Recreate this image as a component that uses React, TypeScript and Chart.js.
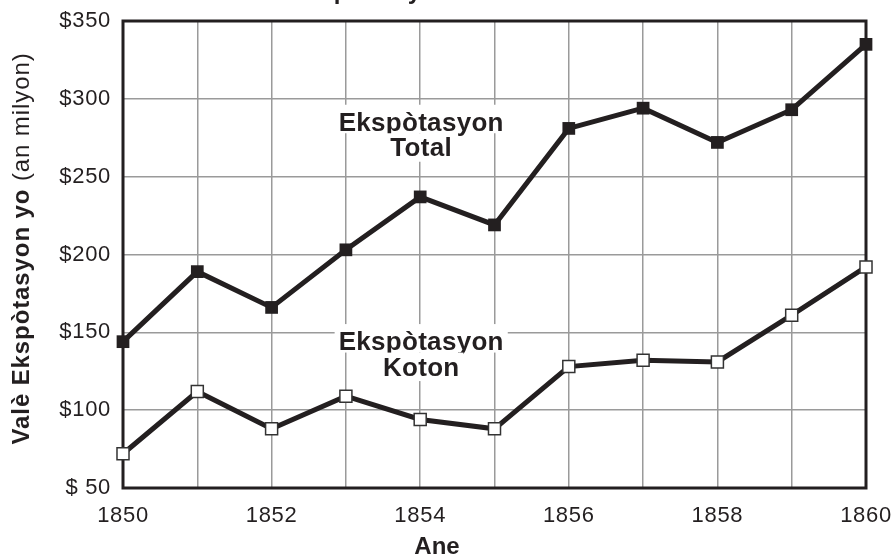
import React, { useEffect, useRef } from 'react';
import { Chart, registerables } from 'chart.js';

Chart.register(...registerables);

const years = [1850, 1851, 1852, 1853, 1854, 1855, 1856, 1857, 1858, 1859, 1860];
const totalExports = [144, 189, 166, 203, 237, 219, 281, 294, 272, 293, 335];
const cottonExports = [72, 112, 88, 109, 94, 88, 128, 132, 131, 161, 192];
const xTickLabels = ['1850', '1852', '1854', '1856', '1858', '1860'];
const yTickValues = [50, 100, 150, 200, 250, 300, 350];
const yTickLabels = ['$ 50', '$100', '$150', '$200', '$250', '$300', '$350'];
const chartTitle = 'Ekspòtasyon Koton ak Total';
const yTitleBold = 'Valè Ekspòtasyon yo';
const yTitleNormal = ' (an milyon)';
const xTitle = 'Ane';
const seriesNames = ['Total', 'Koton'];
const seriesLabelLines = [['Ekspòtasyon', 'Total'], ['Ekspòtasyon', 'Koton']];
const labelAnchorYear = [1854, 1854];
const labelAnchorValue = [279.5, 138.6];

const INK = '#231f20';
const GRID = '#9a9a9a';
const FONT = "'Liberation Sans', Arial, Helvetica, sans-serif";
const TICK_SPACING = '0.7px';

const spacingPlugin = {
  id: 'letterSpacing',
  beforeInit(chart: any) { chart.ctx.letterSpacing = TICK_SPACING; },
  beforeUpdate(chart: any) { chart.ctx.letterSpacing = TICK_SPACING; },
  beforeDraw(chart: any) { chart.ctx.letterSpacing = TICK_SPACING; },
};

const decorPlugin = {
  id: 'decor',
  beforeDatasetsDraw(chart: any) {
    const { ctx, chartArea: a, scales } = chart;
    ctx.save();
    ctx.strokeStyle = INK;
    ctx.lineWidth = 3;
    ctx.strokeRect(a.left, a.top, a.right - a.left, a.bottom - a.top);

    // series annotations with white backgrounds
    ctx.font = `bold 26px ${FONT}`;
    ctx.letterSpacing = '0.3px';
    ctx.textAlign = 'center';
    ctx.textBaseline = 'alphabetic';
    seriesLabelLines.forEach((lines, i) => {
      const cx = scales.x.getPixelForValue(labelAnchorYear[i]) + 1;
      const by = scales.y.getPixelForValue(labelAnchorValue[i]);
      lines.forEach((line, j) => {
        const b = by + j * 25.5;
        const w = ctx.measureText(line).width;
        ctx.fillStyle = '#ffffff';
        const top = j === 0 ? b - 26 : b - 23;
        const bottom = j === 0 ? b + 2.5 : b + 5.5;
        ctx.fillRect(cx - w / 2 - 4, top, w + 8, bottom - top);
        ctx.fillStyle = INK;
        ctx.fillText(line, cx, b);
      });
    });
    ctx.restore();
  },
  afterDraw(chart: any) {
    const { ctx, chartArea: a } = chart;
    ctx.save();
    ctx.fillStyle = INK;
    ctx.textBaseline = 'alphabetic';

    // chart title (mostly above the visible page)
    ctx.letterSpacing = '2px';
    ctx.font = `bold 24px ${FONT}`;
    ctx.textAlign = 'left';
    ctx.fillText(chartTitle, 285, -1);

    // x title
    ctx.letterSpacing = '0px';
    ctx.font = `bold 24px ${FONT}`;
    ctx.textAlign = 'center';
    ctx.fillText(xTitle, 437, 554);

    // y title, mixed weights
    ctx.letterSpacing = '0.9px';
    ctx.translate(29, (a.top + a.bottom) / 2 - 6);
    ctx.rotate(-Math.PI / 2);
    ctx.textAlign = 'left';
    ctx.font = `bold 24px ${FONT}`;
    const wb = ctx.measureText(yTitleBold).width;
    ctx.font = `24px ${FONT}`;
    const wn = ctx.measureText(yTitleNormal).width;
    const start = -(wb + wn) / 2;
    ctx.font = `bold 24px ${FONT}`;
    ctx.fillText(yTitleBold, start, 0);
    ctx.font = `24px ${FONT}`;
    ctx.fillText(yTitleNormal, start + wb, 0);
    ctx.restore();
  },
};

export default function App() {
  const ref = useRef<HTMLCanvasElement | null>(null);

  useEffect(() => {
    document.body.style.margin = '0';
    const canvas = ref.current;
    if (!canvas) return;
    const chart = new Chart(canvas, {
      type: 'line',
      data: {
        datasets: [
          {
            label: seriesNames[0],
            data: years.map((yr, i) => ({ x: yr, y: totalExports[i] })),
            borderColor: INK,
            borderWidth: 5,
            backgroundColor: INK,
            pointStyle: 'rect',
            pointRadius: 9,
            pointBackgroundColor: INK,
            pointBorderColor: INK,
            pointBorderWidth: 0,
            tension: 0,
            clip: false,
          },
          {
            label: seriesNames[1],
            data: years.map((yr, i) => ({ x: yr, y: cottonExports[i] })),
            borderColor: INK,
            borderWidth: 5,
            backgroundColor: '#ffffff',
            pointStyle: 'rect',
            pointRadius: 8.5,
            pointBackgroundColor: '#ffffff',
            pointBorderColor: '#333333',
            pointBorderWidth: 1.5,
            tension: 0,
            clip: false,
          },
        ],
      },
      options: {
        responsive: false,
        animation: false,
        events: [],
        layout: { padding: { top: 21, right: 27, left: 0, bottom: 0 } },
        plugins: {
          legend: { display: false },
          tooltip: { enabled: false },
          title: { display: false },
        },
        scales: {
          x: {
            type: 'linear',
            min: years[0],
            max: years[years.length - 1],
            border: { display: false },
            grid: { color: GRID, lineWidth: 1.5, drawTicks: false },
            ticks: {
              stepSize: 1,
              autoSkip: false,
              maxRotation: 0,
              padding: 15,
              color: INK,
              font: { family: FONT, size: 22 },
              callback: (v: any) => (xTickLabels.includes(String(v)) ? String(v) : ''),
            },
            afterFit: (s: any) => {
              s.height = 70;
              s.paddingLeft = 0;
              s.paddingRight = 0;
            },
          },
          y: {
            type: 'linear',
            min: yTickValues[0],
            max: yTickValues[yTickValues.length - 1],
            border: { display: false },
            grid: { color: GRID, lineWidth: 1.5, drawTicks: false },
            ticks: {
              stepSize: 50,
              padding: 12,
              color: INK,
              font: { family: FONT, size: 22 },
              callback: (v: any) => {
                const idx = yTickValues.indexOf(Number(v));
                return idx >= 0 ? yTickLabels[idx] : '';
              },
            },
            afterFit: (s: any) => {
              s.width = 123;
              s.paddingTop = 0;
              s.paddingBottom = 0;
            },
          },
        },
      },
      plugins: [spacingPlugin, decorPlugin],
    } as any);
    return () => chart.destroy();
  }, []);

  return (
    <div style={{ width: 893, height: 558 }}>
      <canvas ref={ref} width={893} height={558} style={{ display: 'block', width: 893, height: 558 }} />
    </div>
  );
}
